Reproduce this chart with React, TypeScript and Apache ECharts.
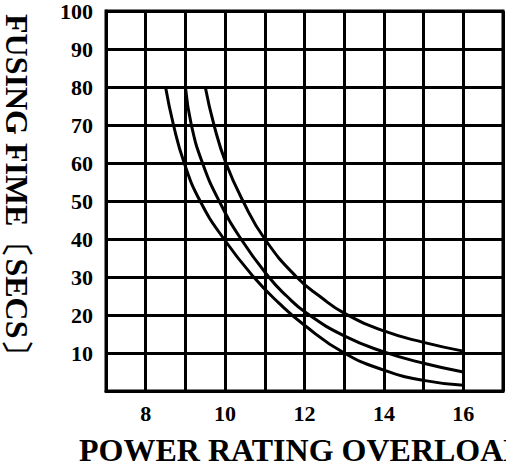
import React, { useEffect, useRef } from "react";
import * as echarts from "echarts";

const xTickLabels = [8, 10, 12, 14, 16];
const yTickLabels = [10, 20, 30, 40, 50, 60, 70, 80, 90, 100];

const curveA_x = [8.5, 8.7, 8.97, 9.37, 9.97, 10.72, 11.35, 12.0, 13.0, 14.0, 15.0, 16.0];
const curveA_y = [80, 70, 60, 50, 40, 30, 23.2, 17.3, 10, 5.5, 2.8, 1.5];

const curveB_x = [9.0, 9.15, 9.43, 9.85, 10.4, 11.1, 11.55, 12.05, 13.0, 14.0, 15.0, 16.0];
const curveB_y = [80, 70, 60, 50, 40, 30, 25, 20.5, 14.5, 10.3, 7.3, 5.0];

const curveC_x = [9.5, 9.72, 10.02, 10.45, 11.0, 11.8, 12.4, 13.0, 14.0, 15.0, 16.0];
const curveC_y = [80, 70, 60, 50, 40, 30, 24.8, 20.5, 15.8, 12.8, 10.5];

const xTitle = "POWER RATING OVERLOAD";
const yTitle = "FUSING FIME〔SECS〕";

const FONT = "'Liberation Serif', 'Times New Roman', serif";

function pairs(xs: number[], ys: number[]) {
  return xs.map((x, i) => [x, ys[i]]);
}

export default function App() {
  const ref = useRef<HTMLDivElement>(null);
  useEffect(() => {
    if (!ref.current) return;
    const chart = echarts.init(ref.current, null, { renderer: "svg" });
    const lineSeries = (name: string, data: number[][]) => ({
      name,
      type: "line",
      data,
      smooth: 0.5,
      showSymbol: false,
      lineStyle: { color: "#000", width: 3 },
      z: 5,
    });
    chart.setOption({
      animation: false,
      backgroundColor: "#fff",
      grid: {
        left: 106,
        top: 10,
        right: 3,
        bottom: 76,
        show: true,
        borderColor: "#000",
        borderWidth: 3,
        backgroundColor: "transparent",
      },
      xAxis: {
        type: "value",
        min: 7,
        max: 17,
        interval: 1,
        axisLine: { show: true, lineStyle: { color: "#000", width: 3 } },
        axisTick: { show: false },
        splitLine: { show: true, lineStyle: { color: "#000", width: 3 } },
        axisLabel: {
          show: true,
          margin: 11,
          color: "#000",
          fontFamily: FONT,
          fontWeight: "bold",
          fontSize: 22,
          showMinLabel: true,
          showMaxLabel: true,
          formatter: (v: number) => (xTickLabels.indexOf(v) >= 0 ? String(v) : ""),
        },
      },
      yAxis: {
        type: "value",
        min: 0,
        max: 100,
        interval: 10,
        axisLine: { show: true, lineStyle: { color: "#000", width: 3 } },
        axisTick: { show: false },
        splitLine: { show: true, lineStyle: { color: "#000", width: 3 } },
        axisLabel: {
          show: true,
          margin: 13,
          color: "#000",
          fontFamily: FONT,
          fontWeight: "bold",
          fontSize: 22,
          padding: [4, 0, 0, 0],
          showMinLabel: true,
          showMaxLabel: true,
          formatter: (v: number) => (yTickLabels.indexOf(v) >= 0 ? String(v) : ""),
        },
      },
      series: [
        lineSeries("A", pairs(curveA_x, curveA_y)),
        lineSeries("B", pairs(curveB_x, curveB_y)),
        lineSeries("C", pairs(curveC_x, curveC_y)),
      ],
      graphic: [
        {
          type: "text",
          x: 79,
          y: 450,
          style: {
            text: xTitle,
            fill: "#000",
            font: `bold 32px ${FONT}`,
            textAlign: "left",
            textVerticalAlign: "middle",
          },
        },
        {
          type: "text",
          x: 17,
          y: 14,
          rotation: -Math.PI / 2,
          style: {
            text: yTitle,
            fill: "#000",
            font: `bold 32px ${FONT}`,
            textAlign: "left",
            textVerticalAlign: "middle",
          },
        },
      ],
    });
    return () => chart.dispose();
  }, []);
  return (
    <div
      ref={ref}
      style={{ position: "absolute", left: 0, top: 0, width: 506, height: 467 }}
    />
  );
}
